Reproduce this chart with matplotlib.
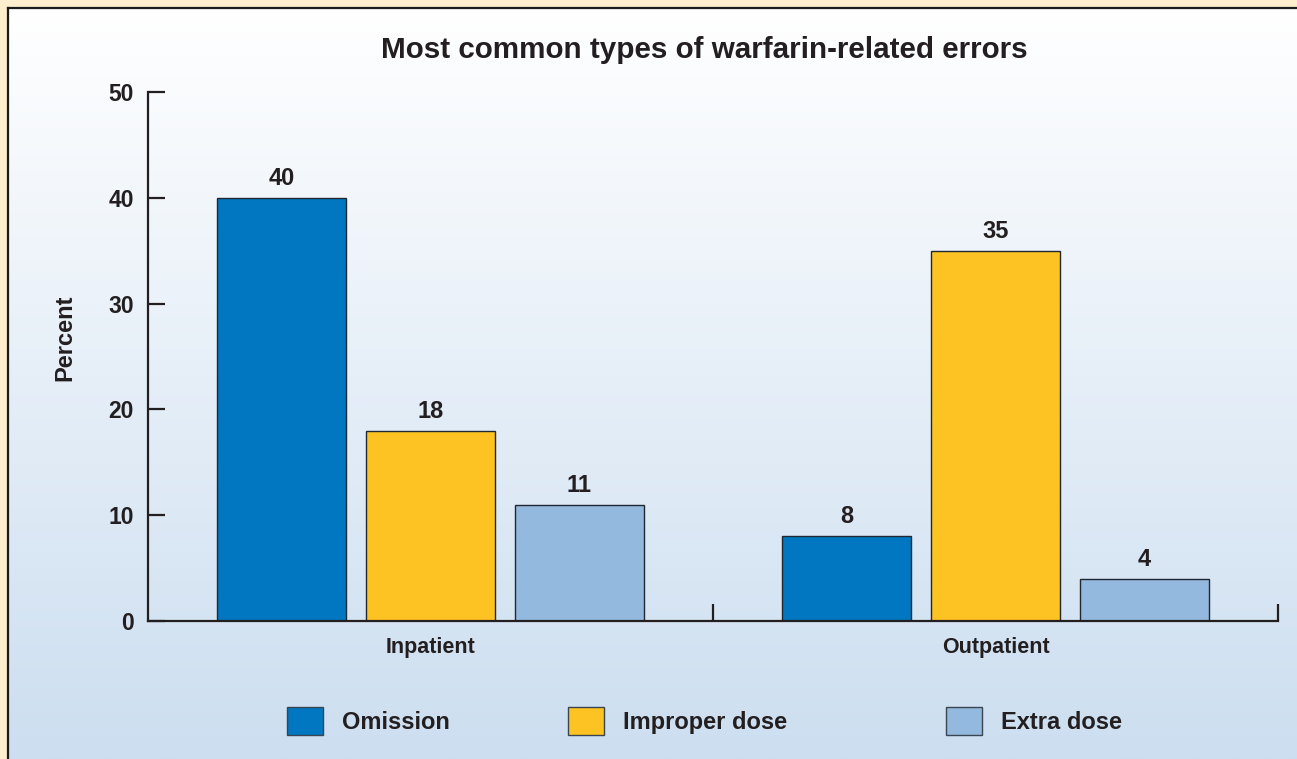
import numpy as np
import matplotlib
matplotlib.use('Agg')
import matplotlib.pyplot as plt
from matplotlib.patches import Rectangle

# data
groups = ['Inpatient', 'Outpatient']
series = ['Omission', 'Improper dose', 'Extra dose']
omission = [40, 8]
improper_dose = [18, 35]
extra_dose = [11, 4]

colors = ['#0077c0', '#fdc323', '#94b9df']
edge = '#1f2730'
ink = '#231f20'

plt.rcParams['font.family'] = ['Liberation Sans', 'DejaVu Sans']
plt.rcParams['font.weight'] = 'bold'

W, H = 1297, 759
fig = plt.figure(figsize=(W / 100, H / 100), dpi=100)
fig.patch.set_facecolor('#fdeece')

# gradient panel
bg = fig.add_axes([8 / W, 0, 1 - 8 / W, 1 - 8 / H], zorder=0)
grad = np.linspace(0, 1, 256).reshape(-1, 1)
top = np.array([1.0, 1.0, 1.0])
bot = np.array([0xcc, 0xde, 0xf0]) / 255
img = top + (bot - top) * grad[:, :, None]
bg.imshow(img, aspect='auto', extent=[0, 1, 0, 1])
bg.set_xlim(0, 1)
bg.set_ylim(0, 1)
bg.set_xticks([])
bg.set_yticks([])
for side in ['right', 'bottom']:
    bg.spines[side].set_visible(False)
for side in ['left', 'top']:
    bg.spines[side].set_linewidth(1.6)
    bg.spines[side].set_color('#1a1a1a')

ax = fig.add_axes([148 / W, 1 - 621 / H, (1278 - 148) / W, (621 - 92) / H], zorder=1)
ax.patch.set_alpha(0)

x = np.arange(len(groups))
offset = 0.263
width = 0.228
for i, (vals, name) in enumerate(zip([omission, improper_dose, extra_dose], series)):
    pos = x + (i - 1) * offset
    bars = ax.bar(pos, vals, width, color=colors[i], edgecolor=edge, linewidth=1.0, label=name)
    for b, v in zip(bars, vals):
        ax.text(b.get_x() + b.get_width() / 2, v + 0.75, str(v), ha='center', va='bottom',
                fontsize=17, fontweight='bold', color=ink)

ax.set_xlim(-0.5, 1.5)
ax.set_ylim(0, 50)
ax.set_yticks([0, 10, 20, 30, 40, 50])
ax.tick_params(axis='y', direction='in', length=12, width=1.6, labelsize=16.5, pad=10,
               colors=ink)
ax.set_xticks([0.5, 1.5])
ax.set_xticklabels([])
ax.tick_params(axis='x', direction='in', length=12, width=1.6, colors=ink)
for xi, g in zip(x, groups):
    ax.text(xi, -1.5, g, ha='center', va='top', fontsize=15.5, fontweight='bold', color=ink)
for side in ['top', 'right']:
    ax.spines[side].set_visible(False)
for side in ['left', 'bottom']:
    ax.spines[side].set_linewidth(1.6)
    ax.spines[side].set_color(ink)

ax.set_ylabel('Percent', fontsize=17, fontweight='bold', color=ink)
ax.yaxis.set_label_coords((65 - 148) / (1278 - 148), (621 - 338) / (621 - 92))
ax.yaxis.label.set_va('center')
fig.text(704 / W, 1 - 47 / H, 'Most common types of warfarin-related errors', ha='center',
         va='center_baseline', fontsize=21.3, fontweight='bold', color=ink)

# legend
leg_x = [287, 568, 946]
for lx, c, name in zip(leg_x, colors, series):
    fig.patches.append(Rectangle((lx / W, 1 - 735 / H), 36 / W, 28 / H, transform=fig.transFigure,
                                 facecolor=c, edgecolor='#3a4550', linewidth=1.0, zorder=3))
    fig.text((lx + 55) / W, 1 - 720 / H, name, ha='left', va='center_baseline', fontsize=17,
             fontweight='bold', color=ink)

fig.savefig('out.png', dpi=100, facecolor=fig.get_facecolor())
